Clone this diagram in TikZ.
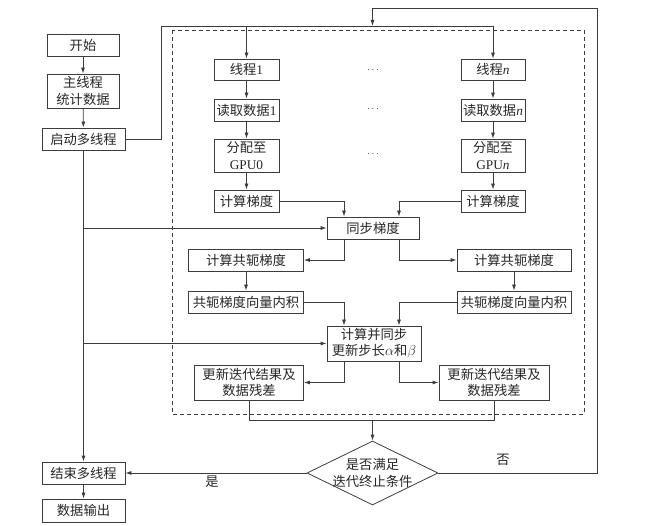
\documentclass[tikz,border=0pt]{standalone}
\usepackage{fontspec}
\setmainfont{Noto Sans CJK SC}
\newfontfamily\lat{Liberation Serif}
\usetikzlibrary{shapes.geometric,arrows.meta}
\definecolor{ln}{RGB}{60,60,60}
\newcommand\num[1]{{\lat #1}}
\newcommand\itn{{\lat\itshape n}}
\begin{document}
\begin{tikzpicture}[x=1pt,y=-1pt,
  box/.style={draw=ln, line width=0.8pt, rectangle, inner sep=0pt, align=center,
              font=\fontsize{13.3}{16.5}\selectfont, text=black!85},
  dia/.style={draw=ln, line width=0.8pt, diamond, aspect=2.05, inner sep=-4pt, align=center,
              font=\fontsize{13.3}{16.5}\selectfont, text=black!85},
  wire/.style={draw=ln, line width=0.8pt},
  arr/.style={draw=ln, line width=0.8pt, -{Latex[length=6pt,width=4pt]}},
  lbl/.style={inner sep=0pt, font=\fontsize{13.3}{16.5}\selectfont, text=black!85},
  dots/.style={inner sep=0pt, text=black!85}
]
\useasboundingbox (0,0) rectangle (650,526);

% dashed frame
\draw[ln, line width=0.8pt, dash pattern=on 4pt off 3pt] (172,30) rectangle (584,414);

% main column
\node[box, minimum width=72pt, minimum height=22pt] (start) at (83,45) {开始};
\node[box, minimum width=72pt, minimum height=34pt] (stat) at (83,91) {主线程\\统计数据};
\node[box, minimum width=83pt, minimum height=22pt] (launch) at (83.5,139) {启动多线程};
\node[box, minimum width=83pt, minimum height=22pt] (endt) at (83.5,473) {结束多线程};
\node[box, minimum width=83pt, minimum height=23pt] (out) at (83.5,510.5) {数据输出};

% thread 1 column
\node[box, minimum width=65pt, minimum height=21pt] (t1) at (246.5,69.5) {线程\num{1}};
\node[box, minimum width=65pt, minimum height=22pt] (r1) at (246.5,110) {读取数据\num{1}};
\node[box, minimum width=65pt, minimum height=33pt] (g1) at (246.5,155.5) {分配至\\\num{GPU0}};
\node[box, minimum width=65pt, minimum height=22pt] (c1) at (246.5,201) {计算梯度};

% thread n column
\node[box, minimum width=64pt, minimum height=21pt] (tn) at (493,69.5) {线程\itn};
\node[box, minimum width=64pt, minimum height=22pt] (rn) at (493,110) {读取数据\itn};
\node[box, minimum width=64pt, minimum height=33pt] (gn) at (493,155.5) {分配至\\\num{GPU}\itn};
\node[box, minimum width=64pt, minimum height=22pt] (cn) at (493,201) {计算梯度};

% dots
\node[dots] (d1) at (373,70) {$\cdots$};
\node[dots] (d2) at (373,109) {$\cdots$};
\node[dots] (d3) at (373,154) {$\cdots$};

% middle
\node[box, minimum width=92pt, minimum height=22pt] (sync) at (373,228) {同步梯度};
\node[box, minimum width=115pt, minimum height=22pt] (cg1) at (246,260) {计算共轭梯度};
\node[box, minimum width=114pt, minimum height=22pt] (cgn) at (514,260) {计算共轭梯度};
\node[box, minimum width=115pt, minimum height=22pt] (ip1) at (246,302) {共轭梯度向量内积};
\node[box, minimum width=114pt, minimum height=22pt] (ipn) at (514,302) {共轭梯度向量内积};
\node[box, minimum width=94pt, minimum height=35pt] (step) at (374,343.5) {计算并同步\\更新步长$\alpha$和$\beta$};
\node[box, minimum width=109pt, minimum height=35pt] (up1) at (249,382.5) {更新迭代结果及\\数据残差};
\node[box, minimum width=110pt, minimum height=35pt] (upn) at (494,382.5) {更新迭代结果及\\数据残差};

% decision
\node[dia, minimum width=131pt, minimum height=64pt] (dec) at (372.5,473) {是否满足\\迭代终止条件};

% labels
\node[lbl] (yes) at (212,482) {是};
\node[lbl] (no) at (503,460) {否};

% coordinates
\coordinate (jA) at (161,26);
\coordinate (jB) at (597,8);
\coordinate (loopend) at (372.5,26);
\coordinate (merge) at (372.5,420);

% main column connectors
\draw[arr] (start) -- (stat);
\draw[arr] (stat) -- (launch);
\draw[arr] (launch.south) -- (endt.north);
\draw[arr] (endt) -- (out);
\draw[arr] (sync.west -| launch.south) -- (sync.west);
\draw[arr] (step.west -| launch.south) -- (step.west);

% launch to threads
\draw[arr] (launch.east) -| (jA) -| (tn.north);
\draw[arr] (t1.north |- jA) -- (t1.north);

% thread columns
\draw[arr] (t1) -- (r1);
\draw[arr] (r1) -- (g1);
\draw[arr] (g1) -- (c1);
\draw[arr] (tn) -- (rn);
\draw[arr] (rn) -- (gn);
\draw[arr] (gn) -- (cn);

% sync
\draw[arr] (c1.east) -| ([xshift=-29pt]sync.north);
\draw[arr] (cn.west) -| ([xshift=26pt]sync.north);
\draw[arr] ([xshift=-29pt]sync.south) |- (cg1.east);
\draw[arr] ([xshift=26pt]sync.south) |- (cgn.west);
\draw[arr] (cg1) -- (ip1);
\draw[arr] (cgn) -- (ipn);
\draw[arr] (ip1.east) -| ([xshift=-30pt]step.north);
\draw[arr] (ipn.west) -| ([xshift=25pt]step.north);
\draw[arr] ([xshift=-30pt]step.south) |- (up1.east);
\draw[arr] ([xshift=25pt]step.south) |- (upn.west);

% merge to decision
\draw[wire] (up1.south) |- (merge);
\draw[wire] (upn.south) |- (merge);
\draw[arr] (merge) -- (dec.north);

% decision outputs
\draw[arr] (dec.west) -- (endt.east);
\draw[arr] (dec.east) -| (jB) -| (loopend);
\end{tikzpicture}
\end{document}
